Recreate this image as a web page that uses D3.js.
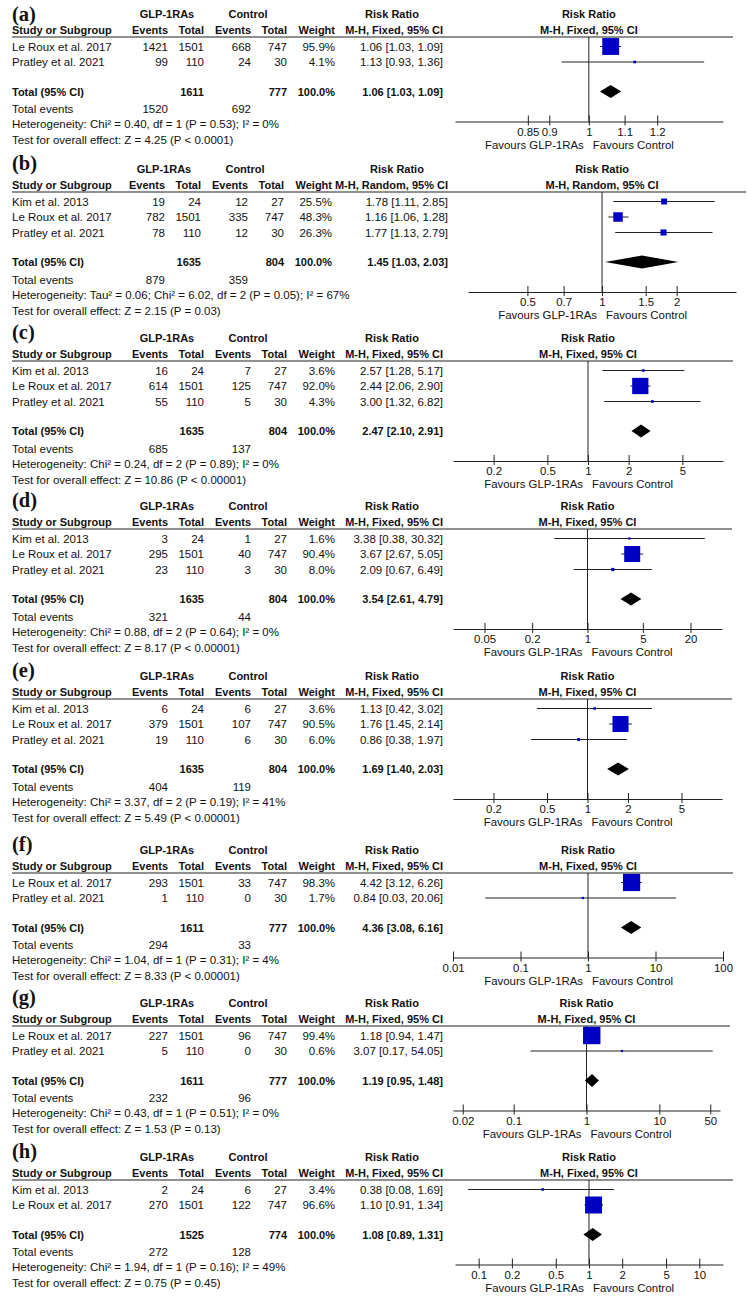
<!DOCTYPE html>
<html>
<head>
<meta charset="utf-8">
<script src="https://cdn.jsdelivr.net/npm/d3@7"></script>
<style>
  html, body { margin: 0; padding: 0; background: #fff; }
  svg { display: block; }
  text { font-family: "Liberation Sans", Arial, sans-serif; font-size: 11.5px; fill: #111; }
  .bold { font-weight: bold; font-size: 11px; }
  .lab { font-family: "Liberation Serif", "Times New Roman", serif; font-weight: bold; font-size: 20.5px; }
</style>
</head>
<body>
<svg id="chart" width="747" height="1299"></svg>
<script>
// ---------------- DATA ----------------
const panelLabels = ["(a)", "(b)", "(c)", "(d)", "(e)", "(f)", "(g)", "(h)"];
const methodText = ["M-H, Fixed, 95% CI", "M-H, Random, 95% CI", "M-H, Fixed, 95% CI", "M-H, Fixed, 95% CI",
                    "M-H, Fixed, 95% CI", "M-H, Fixed, 95% CI", "M-H, Fixed, 95% CI", "M-H, Fixed, 95% CI"];

const studyNames = [
  ["Le Roux et al. 2017", "Pratley et al. 2021"],
  ["Kim et al. 2013", "Le Roux et al. 2017", "Pratley et al. 2021"],
  ["Kim et al. 2013", "Le Roux et al. 2017", "Pratley et al. 2021"],
  ["Kim et al. 2013", "Le Roux et al. 2017", "Pratley et al. 2021"],
  ["Kim et al. 2013", "Le Roux et al. 2017", "Pratley et al. 2021"],
  ["Le Roux et al. 2017", "Pratley et al. 2021"],
  ["Le Roux et al. 2017", "Pratley et al. 2021"],
  ["Kim et al. 2013", "Le Roux et al. 2017"]
];
const expEvents  = [[1421, 99], [19, 782, 78], [16, 614, 55], [3, 295, 23], [6, 379, 19], [293, 1], [227, 5], [2, 270]];
const expTotal   = [[1501, 110], [24, 1501, 110], [24, 1501, 110], [24, 1501, 110], [24, 1501, 110], [1501, 110], [1501, 110], [24, 1501]];
const ctrlEvents = [[668, 24], [12, 335, 12], [7, 125, 5], [1, 40, 3], [6, 107, 6], [33, 0], [96, 0], [6, 122]];
const ctrlTotal  = [[747, 30], [27, 747, 30], [27, 747, 30], [27, 747, 30], [27, 747, 30], [747, 30], [747, 30], [27, 747]];
const weights    = [[95.9, 4.1], [25.5, 48.3, 26.3], [3.6, 92.0, 4.3], [1.6, 90.4, 8.0], [3.6, 90.5, 6.0], [98.3, 1.7], [99.4, 0.6], [3.4, 96.6]];
const rrEst      = [[1.06, 1.13], [1.78, 1.16, 1.77], [2.57, 2.44, 3.00], [3.38, 3.67, 2.09], [1.13, 1.76, 0.86], [4.42, 0.84], [1.18, 3.07], [0.38, 1.10]];
const rrLow      = [[1.03, 0.93], [1.11, 1.06, 1.13], [1.28, 2.06, 1.32], [0.38, 2.67, 0.67], [0.42, 1.45, 0.38], [3.12, 0.03], [0.94, 0.17], [0.08, 0.91]];
const rrHigh     = [[1.09, 1.36], [2.85, 1.28, 2.79], [5.17, 2.90, 6.82], [30.32, 5.05, 6.49], [3.02, 2.14, 1.97], [6.26, 20.06], [1.47, 54.05], [1.69, 1.34]];

const totExpTotal  = [1611, 1635, 1635, 1635, 1635, 1611, 1611, 1525];
const totCtrlTotal = [777, 804, 804, 804, 804, 777, 777, 774];
const totRR   = [1.06, 1.45, 2.47, 3.54, 1.69, 4.36, 1.19, 1.08];
const totLow  = [1.03, 1.03, 2.10, 2.61, 1.40, 3.08, 0.95, 0.89];
const totHigh = [1.09, 2.03, 2.91, 4.79, 2.03, 6.16, 1.48, 1.31];
const totEvExp  = [1520, 879, 685, 321, 404, 294, 232, 272];
const totEvCtrl = [692, 359, 137, 44, 119, 33, 96, 128];
const hetText = [
  "Heterogeneity: Chi\u00b2 = 0.40, df = 1 (P = 0.53); I\u00b2 = 0%",
  "Heterogeneity: Tau\u00b2 = 0.06; Chi\u00b2 = 6.02, df = 2 (P = 0.05); I\u00b2 = 67%",
  "Heterogeneity: Chi\u00b2 = 0.24, df = 2 (P = 0.89); I\u00b2 = 0%",
  "Heterogeneity: Chi\u00b2 = 0.88, df = 2 (P = 0.64); I\u00b2 = 0%",
  "Heterogeneity: Chi\u00b2 = 3.37, df = 2 (P = 0.19); I\u00b2 = 41%",
  "Heterogeneity: Chi\u00b2 = 1.04, df = 1 (P = 0.31); I\u00b2 = 4%",
  "Heterogeneity: Chi\u00b2 = 0.43, df = 1 (P = 0.51); I\u00b2 = 0%",
  "Heterogeneity: Chi\u00b2 = 1.94, df = 1 (P = 0.16); I\u00b2 = 49%"
];
const testText = [
  "Test for overall effect: Z = 4.25 (P < 0.0001)",
  "Test for overall effect: Z = 2.15 (P = 0.03)",
  "Test for overall effect: Z = 10.86 (P < 0.00001)",
  "Test for overall effect: Z = 8.17 (P < 0.00001)",
  "Test for overall effect: Z = 5.49 (P < 0.00001)",
  "Test for overall effect: Z = 8.33 (P < 0.00001)",
  "Test for overall effect: Z = 1.53 (P = 0.13)",
  "Test for overall effect: Z = 0.75 (P = 0.45)"
];
const tickValues = [
  [0.85, 0.9, 1, 1.1, 1.2],
  [0.5, 0.7, 1, 1.5, 2],
  [0.2, 0.5, 1, 2, 5],
  [0.05, 0.2, 1, 5, 20],
  [0.2, 0.5, 1, 2, 5],
  [0.01, 0.1, 1, 10, 100],
  [0.02, 0.1, 1, 10, 50],
  [0.1, 0.2, 0.5, 1, 2, 5, 10]
];
const axisMin = [0.70, 0.288, 0.1, 0.02, 0.1, 0.01, 0.0147, 0.061];
const axisMax = [1.43, 3.47, 10, 50, 10, 100, 68, 16.4];

// ---------------- LAYOUT ----------------
const lineYs  = [37, 192, 361, 529, 699, 873, 1026, 1180];
const plotX0  = [455, 468, 453, 453, 453, 453, 453, 455];
const plotX1  = [723, 736, 723, 722, 722, 723, 720, 723];
const labelDy = [-16, -22, -22, -22, -22, -22, -22, -22];
const colShift = [0, -3, 0, 0, 0, 0, 0, 0];
const rrShift  = [0, 5, 0, 0, 0, 0, 0, 0];

const svg = d3.select("#chart");
svg.append("rect").attr("width", 747).attr("height", 1299).attr("fill", "#fff");

const fmt2 = d => d.toFixed(2);
const rrStr = (e, l, h) => `${fmt2(e)} [${fmt2(l)}, ${fmt2(h)}]`;

panelLabels.forEach((lab, p) => {
  const cs = colShift[p];
  const col = { name: 12, ev: 168 + cs, tot: 204 + cs, cev: 251 + cs, ctot: 287 + cs, w: 335 + cs, rr: 443 + rrShift[p] };
  const g = svg.append("g");
  const ly = lineYs[p];
  const x = d3.scaleLog().domain([axisMin[p], axisMax[p]]).range([plotX0[p], plotX1[p]]);
  const x1 = x(1);

  const txt = (s, xx, yy, anchor, cls) => g.append("text").attr("x", xx).attr("y", yy)
      .attr("text-anchor", anchor || "start").attr("class", cls || null).text(s);

  // panel label
  g.append("text").attr("class", "lab").attr("x", 12).attr("y", ly + labelDy[p]).text(lab);

  // headers
  const h1 = ly - 19, h2 = ly - 3;
  txt("GLP-1RAs", 167 + cs, h1, "middle", "bold");
  txt("Control", 248 + cs, h1, "middle", "bold");
  txt("Risk Ratio", 392 + rrShift[p], h1, "middle", "bold");
  txt("Risk Ratio", x1, h1, "middle", "bold");
  txt("Study or Subgroup", col.name, h2, "start", "bold");
  txt("Events", col.ev, h2, "end", "bold");
  txt("Total", col.tot, h2, "end", "bold");
  txt("Events", col.cev, h2, "end", "bold");
  txt("Total", col.ctot, h2, "end", "bold");
  txt("Weight", col.w, h2, "end", "bold");
  txt(methodText[p], col.rr, h2, "end", "bold");
  txt(methodText[p], x1, h2, "middle", "bold");

  g.append("line").attr("x1", 12).attr("x2", plotX1[p] + 10).attr("y1", ly).attr("y2", ly)
    .attr("stroke", "#222").attr("stroke-width", 1.2);

  // study rows
  const n = studyNames[p].length;
  const rowC = i => ly + 9.5 + 15.5 * i;
  studyNames[p].forEach((s, i) => {
    const c = rowC(i), b = c + 4;
    txt(s, col.name, b);
    txt(expEvents[p][i], col.ev, b, "end");
    txt(expTotal[p][i], col.tot, b, "end");
    txt(ctrlEvents[p][i], col.cev, b, "end");
    txt(ctrlTotal[p][i], col.ctot, b, "end");
    txt(weights[p][i].toFixed(1) + "%", col.w, b, "end");
    txt(rrStr(rrEst[p][i], rrLow[p][i], rrHigh[p][i]), col.rr, b, "end");
  });

  const totC = rowC(n - 1) + 29.5;
  const axisY = totC + 30;

  // total rows
  txt("Total (95% CI)", col.name, totC + 4, "start", "bold");
  txt(totExpTotal[p], col.tot, totC + 4, "end", "bold");
  txt(totCtrlTotal[p], col.ctot, totC + 4, "end", "bold");
  txt("100.0%", col.w, totC + 4, "end", "bold");
  txt(rrStr(totRR[p], totLow[p], totHigh[p]), col.rr, totC + 4, "end", "bold");
  const teB = totC + 4 + 17.5;
  txt("Total events", col.name, teB);
  txt(totEvExp[p], col.ev, teB, "end");
  txt(totEvCtrl[p], col.cev, teB, "end");
  txt(hetText[p], col.name, teB + 15);
  txt(testText[p], col.name, teB + 31);

  // plot: vertical line of no effect
  g.append("line").attr("x1", x1).attr("x2", x1).attr("y1", ly).attr("y2", axisY)
    .attr("stroke", "#222").attr("stroke-width", 1);

  // CI lines and squares
  studyNames[p].forEach((s, i) => {
    const c = rowC(i);
    g.append("line").attr("x1", x(rrLow[p][i])).attr("x2", x(rrHigh[p][i]))
      .attr("y1", c).attr("y2", c).attr("stroke", "#222").attr("stroke-width", 1);
    const sz = 2 + 0.155 * weights[p][i];
    g.append("rect").attr("x", x(rrEst[p][i]) - sz / 2).attr("y", c - sz / 2)
      .attr("width", sz).attr("height", sz).attr("fill", "#0000c4");
  });

  // diamond
  const dh = 6.5;
  g.append("path")
    .attr("d", `M${x(totLow[p])},${totC} L${x(totRR[p])},${totC - dh} L${x(totHigh[p])},${totC} L${x(totRR[p])},${totC + dh} Z`)
    .attr("fill", "#000");

  // axis
  const ax = g.append("g").attr("transform", `translate(0,${axisY})`)
    .call(d3.axisBottom(x).tickValues(tickValues[p]).tickFormat(d => String(d))
      .tickSizeOuter(0).tickSizeInner(4).tickPadding(2));
  ax.select(".domain").attr("stroke", "#222");
  ax.selectAll(".tick line").attr("y1", -6).attr("y2", 4).attr("stroke", "#222");
  ax.selectAll(".tick text").attr("fill", "#111").style("font-size", "11.4px")
    .style("font-family", "'Liberation Sans', Arial, sans-serif");

  txt("Favours GLP-1RAs", x1 - 5, axisY + 27, "end").style("font-size", "11.4px");
  txt("Favours Control", x1 + 4, axisY + 27, "start").style("font-size", "11.4px");
});
</script>
</body>
</html>
